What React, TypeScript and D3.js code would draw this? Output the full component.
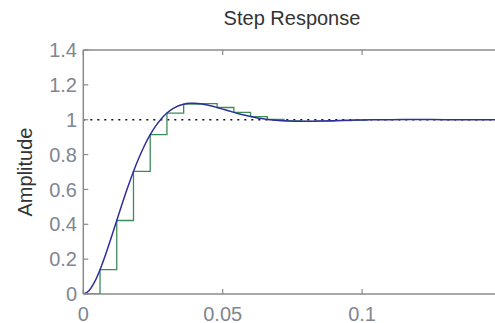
import React from "react";
import * as d3 from "d3";

const title = "Step Response";
const yLabel = "Amplitude";

// Continuous step response (time, amplitude)
const contTime = [
  0, 0.002, 0.004, 0.006, 0.008, 0.01, 0.012, 0.014, 0.016, 0.018, 0.02,
  0.022, 0.024, 0.026, 0.028, 0.03, 0.032, 0.034, 0.036, 0.038, 0.04,
  0.042, 0.044, 0.046, 0.048, 0.05, 0.052, 0.054, 0.056, 0.058, 0.06,
  0.062, 0.064, 0.066, 0.068, 0.07, 0.072, 0.074, 0.076, 0.078, 0.08,
  0.084, 0.088, 0.092, 0.096, 0.1, 0.105, 0.11, 0.12, 0.13, 0.15,
];
const contAmp = [
  0, 0.0185, 0.0677, 0.1395, 0.2265, 0.3224, 0.4217, 0.5205, 0.6151, 0.7032, 0.783,
  0.8535, 0.9141, 0.9647, 1.0058, 1.0382, 1.062, 1.0787, 1.0891, 1.0941, 1.0945,
  1.0918, 1.0862, 1.0787, 1.07, 1.0608, 1.0514, 1.0421, 1.0333, 1.0254, 1.018,
  1.0117, 1.0063, 1.0018, 0.9982, 0.9955, 0.9935, 0.9922, 0.9913, 0.991, 0.9911,
  0.9921, 0.9938, 0.9955, 0.9971, 0.9985, 0.9998, 1.0005, 1.0008, 1.0005, 1.0,
];

// Discrete (zero-order hold) samples
const sampleTime = [
  0, 0.006, 0.012, 0.018, 0.024, 0.03, 0.036, 0.042, 0.048, 0.054, 0.06,
  0.066, 0.072, 0.078, 0.084, 0.09, 0.096, 0.102,
];
const sampleAmp = [
  0, 0.1395, 0.4217, 0.7032, 0.9141, 1.0382, 1.0891, 1.0918, 1.07, 1.0421, 1.018,
  1.0018, 0.9935, 0.991, 0.9921, 0.9946, 0.9971, 0.9971,
];

const xTicks = [0, 0.05, 0.1];
const xTickLabels = ["0", "0.05", "0.1"];
const yTicks = [0, 0.2, 0.4, 0.6, 0.8, 1, 1.2, 1.4];
const yTickLabels = ["0", "0.2", "0.4", "0.6", "0.8", "1", "1.2", "1.4"];
const refLevel = [1];

export default function App() {
  const W = 495, H = 323;
  const left = 83.3, top = 50, bottom = 294;
  const x = d3.scaleLinear().domain([0, 0.15]).range([left, left + 0.15 * 2788]);
  const y = d3.scaleLinear().domain([0, 1.4]).range([bottom, top]);
  const right = x(0.15);

  const lineCont = d3.line<number>()
    .x((_, i) => x(contTime[i]))
    .y((d) => y(d))
    .curve(d3.curveMonotoneX);
  const lineStep = d3.line<number>()
    .x((_, i) => x(sampleTime[i]))
    .y((d) => y(d))
    .curve(d3.curveStepAfter);

  const axisColor = "#8a8a8a";
  const labelColor = "#7f8691";
  const font = "'Liberation Sans', Arial, sans-serif";

  return (
    <svg width={W} height={H} style={{ position: "absolute", left: 0, top: 0, background: "#fff" }}>
      <defs>
        <clipPath id="plotClip">
          <rect x={left} y={top} width={right - left} height={bottom - top} />
        </clipPath>
      </defs>
      <text x={292} y={25} textAnchor="middle" fontFamily={font} fontSize={20} fill="#333">
        {title}
      </text>
      <text
        transform={`translate(31.5,172) rotate(-90)`}
        textAnchor="middle"
        fontFamily={font}
        fontSize={20}
        fill="#333"
      >
        {yLabel}
      </text>

      <g clipPath="url(#plotClip)">
        {refLevel.map((v) => (
          <line
            key={v}
            x1={left}
            x2={right}
            y1={y(v)}
            y2={y(v)}
            stroke="#111"
            strokeWidth={1.6}
            strokeDasharray="2,5"
          />
        ))}
        <path d={lineStep(sampleAmp) || ""} fill="none" stroke="#3c8c58" strokeWidth={1.3} />
        <path d={lineCont(contAmp) || ""} fill="none" stroke="#2f2f9c" strokeWidth={1.5} />
      </g>

      {/* frame */}
      <line x1={left} x2={left} y1={top} y2={bottom} stroke={axisColor} strokeWidth={1.5} />
      <line x1={left} x2={right} y1={bottom} y2={bottom} stroke={axisColor} strokeWidth={1.5} />
      <line x1={left} x2={right} y1={top} y2={top} stroke={axisColor} strokeWidth={1.5} />
      <line x1={right} x2={right} y1={top} y2={bottom} stroke={axisColor} strokeWidth={1.5} />

      {xTicks.map((t, i) => (
        <g key={"xt" + i}>
          <line x1={x(t)} x2={x(t)} y1={bottom} y2={bottom - 5} stroke={axisColor} strokeWidth={1.2} />
          <line x1={x(t)} x2={x(t)} y1={top} y2={top + 5} stroke={axisColor} strokeWidth={1.2} />
          <text x={x(t)} y={320.5} textAnchor="middle" fontFamily={font} fontSize={20} fill={labelColor}>
            {xTickLabels[i]}
          </text>
        </g>
      ))}
      {yTicks.map((t, i) => (
        <g key={"yt" + i}>
          <line x1={left} x2={left + 5} y1={y(t)} y2={y(t)} stroke={axisColor} strokeWidth={1.2} />
          <text
            x={77}
            y={y(t)}
            dy="0.36em"
            textAnchor="end"
            fontFamily={font}
            fontSize={20}
            fill={labelColor}
          >
            {yTickLabels[i]}
          </text>
        </g>
      ))}
    </svg>
  );
}
